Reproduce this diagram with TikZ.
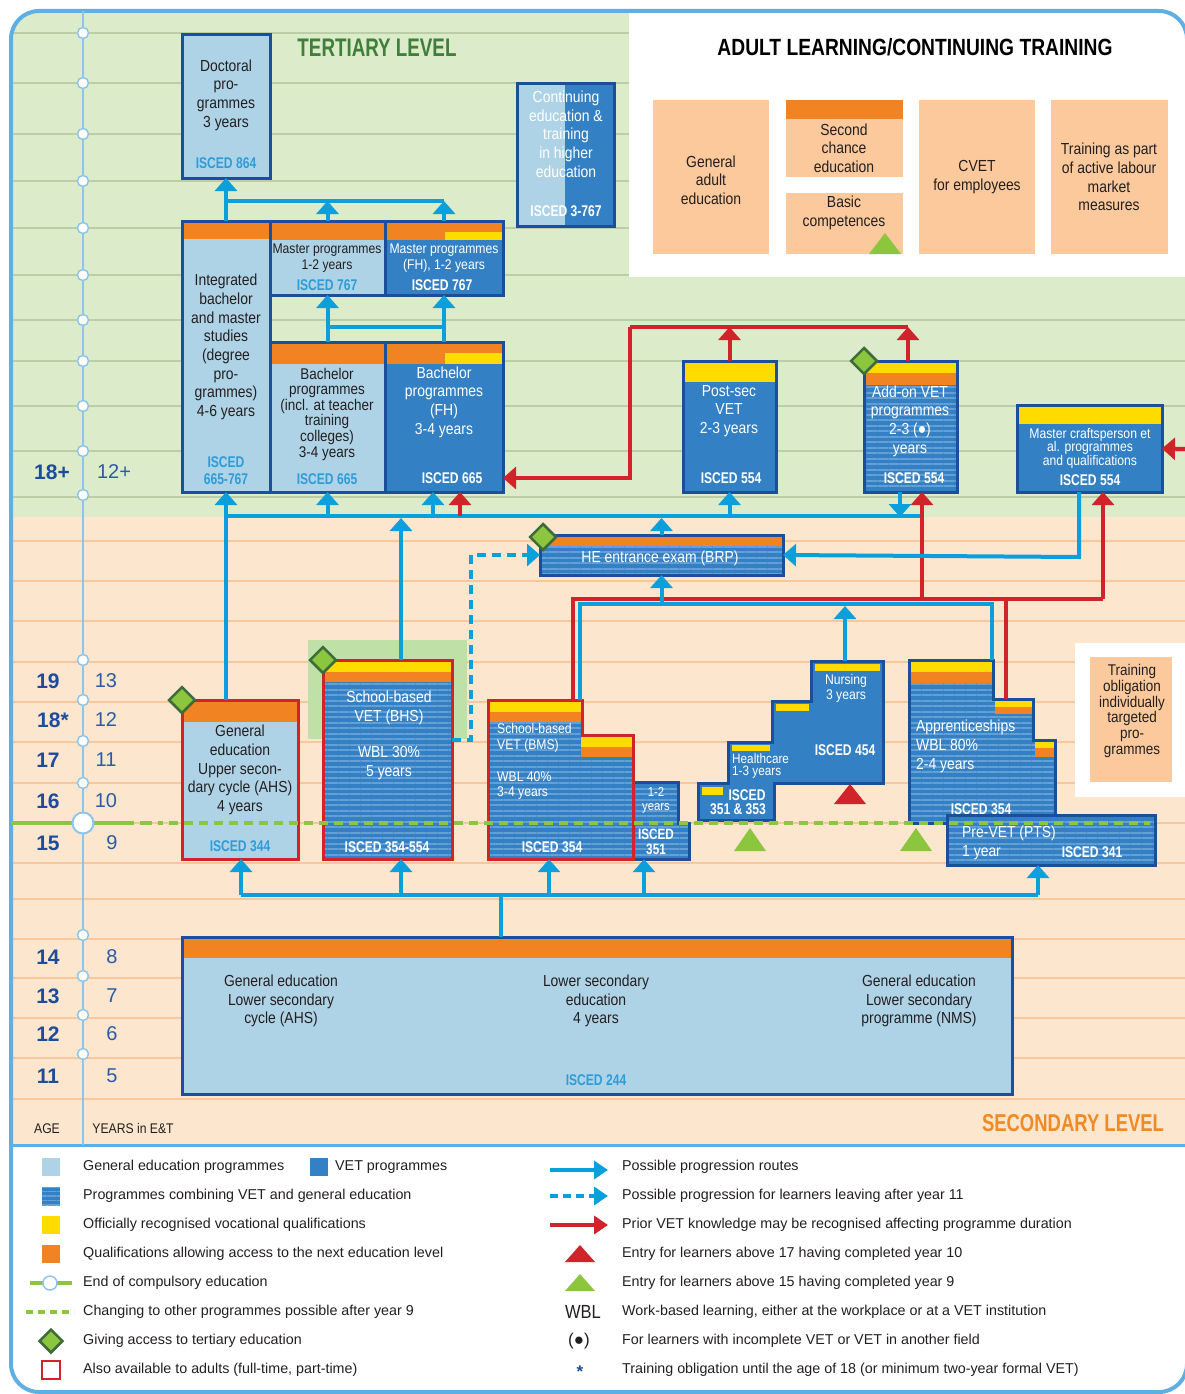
\documentclass[tikz,border=0pt]{standalone}
\usepackage{fontspec}
\usepackage{graphicx}
\setmainfont{Liberation Sans}
\newfontfamily\cond{Liberation Sans}[FakeStretch=0.87]
\newfontfamily\condb{Liberation Sans}[FakeStretch=0.78]
\usetikzlibrary{arrows.meta,patterns.meta,shapes.geometric,fit,calc}
\definecolor{frameblue}{HTML}{5EB0E4}
\definecolor{axisblue}{HTML}{8EC5EC}
\definecolor{tertgreen}{HTML}{DCEBC9}
\definecolor{tertline}{HTML}{BCCEA8}
\definecolor{secpeach}{HTML}{FDE6CE}
\definecolor{secline}{HTML}{F8C79B}
\definecolor{genblue}{HTML}{AFD3E6}
\definecolor{vetblue}{HTML}{3380C4}
\definecolor{stripe}{HTML}{649FD6}
\definecolor{darkblue}{HTML}{1B4F9C}
\definecolor{arrblue}{HTML}{0B9FDC}
\definecolor{redc}{HTML}{D1232A}
\definecolor{orangec}{HTML}{F28322}
\definecolor{yellowc}{HTML}{FFDC00}
\definecolor{limec}{HTML}{8CC63F}
\definecolor{diamborder}{HTML}{3E6B3A}
\definecolor{adultpeach}{HTML}{FBC99B}
\definecolor{iscedc}{HTML}{2E9CD8}
\definecolor{agec}{HTML}{1E4B9B}
\definecolor{yearc}{HTML}{2A5AA8}
\definecolor{titlegreen}{HTML}{3F7F3A}
\definecolor{titleorange}{HTML}{F08A24}
\definecolor{highlight}{HTML}{BFE0A6}
\definecolor{txtc}{HTML}{231F20}
\newcommand{\rbox}[6]{%
  \path (#2,#3) coordinate (#1nw) (#4,#5) coordinate (#1se);
  \node[fit=(#1nw)(#1se), inner sep=0pt, outer sep=0pt, #6] (#1) {};}
\begin{document}
\begin{tikzpicture}[x=1pt,y=-1pt,
  gbox/.style={draw=darkblue, line width=3pt, fill=genblue},
  vbox/.style={draw=darkblue, line width=3pt, fill=vetblue},
  sbox/.style={draw=darkblue, line width=3pt, preaction={fill=vetblue}, pattern={Lines[angle=0,distance=5.5pt,line width=2pt]}, pattern color=stripe},
  gboxr/.style={gbox, draw=redc},
  sboxr/.style={sbox, draw=redc},
  pbox/.style={fill=adultpeach},
  bt/.style={font=\cond\fontsize{16}{18.7}\selectfont, align=center, inner sep=0pt, text=txtc},
  btw/.style={bt, text=white},
  st/.style={font=\cond\fontsize{14}{16}\selectfont, align=center, inner sep=0pt, text=txtc},
  stw/.style={st, text=white},
  isc/.style={font=\condb\bfseries\fontsize{15.5}{17}\selectfont, align=center, inner sep=0pt, text=iscedc},
  iscw/.style={isc, text=white},
  leg/.style={font=\fontsize{14.3}{16}\selectfont, anchor=west, inner sep=0pt, text=txtc},
  agel/.style={font=\bfseries\fontsize{21}{21}\selectfont, text=agec, inner sep=0pt},
  yearl/.style={font=\fontsize{20}{20}\selectfont, text=yearc, inner sep=0pt},
  barr/.style={draw=arrblue, line width=4pt, -{Triangle[width=22pt,length=13pt]}},
  bln/.style={draw=arrblue, line width=4pt},
  rarr/.style={draw=redc, line width=4pt, -{Triangle[width=22pt,length=13pt]}},
  rln/.style={draw=redc, line width=4pt},
  dia/.style={diamond, draw=diamborder, fill=limec, line width=2.5pt, minimum size=27pt, inner sep=0pt},
  axc/.style={circle, draw=axisblue, fill=white, line width=1.5pt, minimum size=11pt, inner sep=0pt}
]
\useasboundingbox (0,0) rectangle (1184,1394);
\fill[white] (0,0) rectangle (1184,1394);
% ---------- background
\begin{scope}
\clip[rounded corners=28pt] (11,11) rectangle (1187,1392);
\fill[tertgreen] (11,11) rectangle (1187,517);
\fill[secpeach] (11,517) rectangle (1187,1145);
\foreach \yy in {33,83,134,181,228,275,320,361,406,451,497}
  \draw[tertline, line width=2pt] (11,\yy) -- (1187,\yy);
\foreach \yy in {541,581,621,662,702,742,783,823,863,899,939,978,1018,1058,1099}
  \draw[secline, line width=2pt] (11,\yy) -- (1187,\yy);
\fill[white] (629,11) rectangle (1187,277);
\end{scope}
\draw[frameblue, line width=4pt, rounded corners=28pt] (11,11) rectangle (1187,1392);
\draw[frameblue, line width=3pt] (11,1145) -- (1187,1145);
% ---------- axis
\draw[axisblue, line width=2pt] (83,11) -- (83,1145);
\foreach \yy in {33,83,134,181,228,275,320,361,406,451,495,660,700,741,783,935,976,1015,1054}
  \node[axc] (c\yy) at (83,\yy) {};
\node[agel] (a18p) at (52,472) {18+};
\node[agel] (a19) at (48,681) {19};
\node[agel] (a18) at (53,720) {18*};
\node[agel] (a17) at (48,760) {17};
\node[agel] (a16) at (48,801) {16};
\node[agel] (a15) at (48,843) {15};
\node[agel] (a14) at (48,957) {14};
\node[agel] (a13) at (48,996) {13};
\node[agel] (a12) at (48,1034) {12};
\node[agel] (a11) at (48,1076) {11};
\node[yearl] (y12p) at (114,472) {12+};
\node[yearl] (y13) at (106,681) {13};
\node[yearl] (y12) at (106,720) {12};
\node[yearl] (y11) at (106,760) {11};
\node[yearl] (y10) at (106,801) {10};
\node[yearl] (y9) at (112,843) {9};
\node[yearl] (y8) at (112,957) {8};
\node[yearl] (y7) at (112,996) {7};
\node[yearl] (y6) at (112,1034) {6};
\node[yearl] (y5) at (112,1076) {5};
\node[font=\cond\fontsize{14}{14}\selectfont, text=txtc] (agelab) at (47,1129) {AGE};
\node[font=\cond\fontsize{14}{14}\selectfont, text=txtc] (yearlab) at (133,1128) {YEARS in E\&T};
% ---------- titles
\node[text=titlegreen, inner sep=0pt] (ttert) at (377,48) {\resizebox{159pt}{17.5pt}{\bfseries TERTIARY LEVEL}};
\node[text=black, inner sep=0pt] (tadult) at (915,47) {\resizebox{395pt}{17pt}{\bfseries ADULT LEARNING/CONTINUING TRAINING}};
\node[text=titleorange, inner sep=0pt] (tsec) at (1073,1123) {\resizebox{182pt}{17pt}{\bfseries SECONDARY LEVEL}};
% ---------- tertiary boxes
\rbox{doc}{182}{35}{270}{178}{gbox}
\node[bt] (docT) at (226,95) {Doctoral\\pro-\\grammes\\3 years};
\node[isc] (docI) at (226,163) {ISCED 864};
\rbox{intg}{182}{221}{270}{492}{gbox}
\fill[orangec] (183.5,222.5) rectangle (268.5,239);
\node[bt] (intgT) at (226,347) {Integrated\\bachelor\\and master\\studies\\(degree\\pro-\\grammes)\\4-6 years};
\node[isc] (intgI) at (226,471) {ISCED\\665-767};
\rbox{mas}{270}{221}{385}{295}{gbox}
\fill[orangec] (271.5,222.5) rectangle (383.5,240);
\node[st] (masT) at (327,258) {Master programmes\\1-2 years};
\node[isc] (masI) at (327,285) {ISCED 767};
\rbox{masfh}{385}{221}{503}{295}{vbox}
\fill[orangec] (386.5,222.5) rectangle (501.5,240);
\fill[yellowc] (445,232) rectangle (501.5,240);
\node[stw] (masfhT) at (444,258) {Master programmes\\(FH), 1-2 years};
\node[iscw] (masfhI) at (442,285) {ISCED 767};
\rbox{bac}{270}{342}{385}{492}{gbox}
\fill[orangec] (271.5,343.5) rectangle (383.5,364);
\node[bt, font=\cond\fontsize{15.5}{15.6}\selectfont] (bacT) at (327,414) {Bachelor\\programmes\\(incl. at teacher\\training\\colleges)\\3-4 years};
\node[isc] (bacI) at (327,479) {ISCED 665};
\rbox{bacfh}{385}{342}{503}{492}{vbox}
\fill[orangec] (386.5,343.5) rectangle (501.5,364);
\fill[yellowc] (445,353) rectangle (501.5,364);
\node[btw] (bacfhT) at (444,402) {Bachelor\\programmes\\(FH)\\3-4 years};
\node[iscw] (bacfhI) at (452,478) {ISCED 665};
% continuing education
\fill[genblue] (517,84) rectangle (565,226);
\fill[vetblue] (565,84) rectangle (614,226);
\rbox{cont}{517}{84}{614}{226}{draw=darkblue, line width=3pt}
\node[btw] (contT) at (566,134) {Continuing\\education \&\\training\\in higher\\education};
\node[iscw] (contI) at (566,211) {ISCED 3-767};
% adult learning
\rbox{ga}{653}{100}{769}{254}{pbox}
\node[bt] (gaT) at (711,180) {General\\adult\\education};
\rbox{sc}{786}{100}{903}{177}{pbox}
\fill[orangec] (786,100) rectangle (903,119);
\node[bt] (scT) at (844,148) {Second\\chance\\education};
\rbox{bc}{786}{193}{903}{254}{pbox}
\node[bt] (bcT) at (844,213) {Basic\\competences};
\fill[limec] (885,233) -- (901,254) -- (869,254) -- cycle;
\rbox{cv}{919}{100}{1035}{254}{pbox}
\node[bt] (cvT) at (977,177) {CVET\\for employees};
\rbox{tp}{1051}{100}{1168}{254}{pbox}
\node[bt] (tpT) at (1109,177) {Training as part\\of active labour\\market\\measures};
% post-sec, add-on, master craftsperson
\rbox{postsec}{683}{361}{776}{492}{vbox}
\fill[yellowc] (684.5,362.5) rectangle (774.5,382);
\node[btw] (postsecT) at (729,411) {Post-sec\\VET\\2-3 years};
\node[iscw] (postsecI) at (731,478) {ISCED 554};
\rbox{addon}{864}{361}{957}{492}{sbox}
\fill[yellowc] (865.5,362.5) rectangle (955.5,373);
\fill[orangec] (865.5,373) rectangle (955.5,385);
\node[btw] (addonT) at (910,421) {Add-on VET\\programmes\\2-3 (●)\\years};
\node[iscw] (addonI) at (914,478) {ISCED 554};
\rbox{mc}{1017}{405}{1162}{492}{vbox}
\fill[yellowc] (1018.5,406.5) rectangle (1160.5,424);
\node[stw, font=\cond\fontsize{14}{13.5}\selectfont] (mcT) at (1090,448) {Master craftsperson et\\al. programmes\\and qualifications};
\node[iscw] (mcI) at (1090,480) {ISCED 554};
% ---------- secondary boxes
\fill[highlight] (308,640) rectangle (467,739);
\rbox{ahs}{182}{700}{298}{859}{gboxr}
\fill[orangec] (183.5,701.5) rectangle (296.5,722);
\node[bt] (ahsT) at (240,770) {General\\education\\Upper secon-\\dary cycle (AHS)\\4 years};
\node[isc] (ahsI) at (240,846) {ISCED 344};
\rbox{bhs}{323}{660}{452}{859}{sboxr}
\fill[yellowc] (324.5,661.5) rectangle (450.5,672);
\fill[orangec] (324.5,672) rectangle (450.5,682);
\node[btw] (bhsT1) at (389,708) {School-based\\VET (BHS)};
\node[btw] (bhsT2) at (389,763) {WBL 30\%\\5 years};
\node[iscw] (bhsI) at (387,847) {ISCED 354-554};
% ISCED 351 box
\draw[sbox] (633,782) -- (678,782) -- (678,823) -- (689,823) -- (689,859) -- (633,859) -- cycle;
\path (633,782) coordinate (b351nw) (689,859) coordinate (b351se);
\node[fit=(b351nw)(b351se), inner sep=0pt] (b351) {};
\node[stw, font=\cond\fontsize{13}{14}\selectfont] (b351T) at (656,800) {1-2\\years};
\node[iscw, font=\condb\bfseries\fontsize{15}{15}\selectfont] (b351I) at (656,842) {ISCED\\351};
% BMS
\draw[sboxr] (488,700) -- (582,700) -- (582,735) -- (633,735) -- (633,859) -- (488,859) -- cycle;
\path (488,700) coordinate (bmsnw) (633,859) coordinate (bmsse);
\node[fit=(bmsnw)(bmsse), inner sep=0pt] (bms) {};
\fill[yellowc] (489.5,701.5) rectangle (580.5,712);
\fill[orangec] (489.5,712) rectangle (580.5,722);
\fill[yellowc] (580.5,736.5) rectangle (631.5,747);
\fill[orangec] (580.5,747) rectangle (631.5,757);
\node[stw, anchor=west, align=left] (bmsT1) at (497,738) {School-based\\VET (BMS)};
\node[stw, anchor=west, align=left, font=\cond\fontsize{14}{15}\selectfont] (bmsT2) at (497,786) {WBL 40\%\\3-4 years};
\node[iscw] (bmsI) at (552,847) {ISCED 354};
% HE entrance exam
\rbox{he}{540}{535}{783}{575}{sbox}
\fill[orangec] (541.5,536.5) rectangle (781.5,546);
\node[btw] (heT) at (660,558) {HE entrance exam (BRP)};
% Healthcare / Nursing staircase
\draw[vbox] (698,820) -- (698,783) -- (728,783) -- (728,742) -- (772,742) -- (772,701) -- (811,701) -- (811,661) -- (883,661) -- (883,783) -- (774,783) -- (774,820) -- cycle;
\path (698,661) coordinate (hnnw) (883,820) coordinate (hnse);
\node[fit=(hnnw)(hnse), inner sep=0pt] (hn) {};
\fill[yellowc] (815,664) rectangle (880,671);
\fill[yellowc] (776,704) rectangle (809,711);
\fill[yellowc] (732,745) rectangle (770,751);
\fill[yellowc] (702,787) rectangle (723,795);
\node[stw, font=\cond\fontsize{14}{15}\selectfont] (nurT) at (846,688) {Nursing\\3 years};
\node[iscw] (nurI) at (845,750) {ISCED 454};
\node[stw, anchor=west, align=left, font=\cond\fontsize{13.5}{12.5}\selectfont] (hcT) at (732,766) {Healthcare\\1-3 years};
\node[iscw] (hcI1) at (747,795) {ISCED};
\node[iscw] (hcI2) at (738,809) {351 \& 353};
% Apprenticeships
\draw[sbox] (909,660) -- (993,660) -- (993,699) -- (1033,699) -- (1033,740) -- (1055,740) -- (1055,823) -- (909,823) -- cycle;
\path (909,660) coordinate (appnw) (1055,823) coordinate (appse);
\node[fit=(appnw)(appse), inner sep=0pt] (app) {};
\fill[yellowc] (910.5,661.5) rectangle (991.5,672);
\fill[orangec] (910.5,672) rectangle (991.5,683);
\fill[yellowc] (994.5,700.5) rectangle (1031.5,707);
\fill[orangec] (994.5,707) rectangle (1031.5,714);
\fill[yellowc] (1034.5,741.5) rectangle (1053.5,748);
\fill[orangec] (1034.5,748) rectangle (1053.5,757);
\node[btw, anchor=west, align=left] (appT) at (916,746.5) {Apprenticeships\\WBL 80\%\\2-4 years};
\node[iscw] (appI) at (981,809) {ISCED 354};
% Pre-VET
\rbox{prevet}{947}{815}{1155}{865}{sbox}
\node[btw, anchor=west, align=left] (prevetT) at (962,843) {Pre-VET (PTS)\\1 year};
\node[iscw] (prevetI) at (1092,852) {ISCED 341};
% training obligation
\fill[white] (1075,643) rectangle (1186,797);
\rbox{tob}{1090}{657}{1172}{782}{pbox}
\node[bt, font=\cond\fontsize{15.5}{15.8}\selectfont] (tobT) at (1132,711) {Training\\obligation\\individually\\targeted\\pro-\\grammes};
% lower secondary
\rbox{lsec}{182}{937}{1012}{1094}{gbox}
\fill[orangec] (183.5,938.5) rectangle (1010.5,958);
\node[bt] (lsecT1) at (281,1001) {General education\\Lower secondary\\cycle (AHS)};
\node[bt] (lsecT2) at (596,1001) {Lower secondary\\education\\4 years};
\node[bt] (lsecT3) at (919,1001) {General education\\Lower secondary\\programme (NMS)};
\node[isc] (lsecI) at (596,1080) {ISCED 244};
% ---------- connectors: tertiary
\draw[barr] (intg.north) -- (doc.south);
\coordinate (tj1) at (226,201);
\coordinate (tj2) at (444,201);
\draw[bln] (tj1) -- (tj2);
\draw[barr] (mas.north) -- (mas.north |- tj1);
\draw[barr] (masfh.north) -- (masfh.north |- tj1);
\coordinate (tj3) at (327,327);
\coordinate (tj4) at (444,327);
\draw[bln] (tj3) -- (tj4);
\draw[barr] (bac.north) -- (mas.south);
\draw[barr] (bacfh.north) -- (masfh.south);
% red tertiary route
\coordinate (rj1) at (630,327);
\coordinate (rj2) at (908,327);
\coordinate (rj3) at (630,478);
\draw[rln] (rj1) -- (rj2);
\draw[rarr] (postsec.north) -- (postsec.north |- rj1);
\draw[rarr] (addon.north -| rj2) -- (rj2);
\draw[rarr] (rj1) -- (rj3) -- (bacfh.east |- rj3);
\coordinate (mcin) at (1190,449);
\draw[rarr] (mcin) -- (mc.east);
% blue level line
\coordinate (bl) at (226,516);
\coordinate (br) at (922,516);
\draw[bln] (bl) -- (br);
\draw[barr] (ahs.north -| intg.south) -- (intg.south);
\draw[barr] (bac.south |- bl) -- (bac.south);
\coordinate (bfx) at (433,516);
\draw[barr] (bfx) -- (bacfh.south -| bfx);
\coordinate (rfx) at (460,516);
\draw[rarr] (rfx) -- (bacfh.south -| rfx);
\coordinate (bhsx) at (401,518);
\draw[barr] (bhs.north -| bhsx) -- (bhsx);
\draw[barr] (he.north) -- (he.north |- bhsx);
\draw[barr] (postsec.south |- bl) -- (postsec.south);
\coordinate (adx) at (900,517);
\draw[barr] (addon.south -| adx) -- (adx);
% dashed route
\coordinate (dj1) at (471,740);
\coordinate (dj2) at (471,555);
\draw[barr, dash pattern=on 9pt off 6pt] (bhs.east |- dj1) -- (dj1) -- (dj2) -- (he.west);
% red secondary routes
\coordinate (rs1) at (573,700);
\coordinate (rs2) at (573,599);
\coordinate (rs3) at (1103,599);
\draw[rln] (rs1) -- (rs2) -- (rs3);
\coordinate (rs4) at (922,599);
\draw[rarr] (rs4) -- (addon.south -| rs4);
\draw[rarr] (rs3) -- (mc.south -| rs3);
\coordinate (rs5) at (1006,599);
\coordinate (rs6) at (1006,699);
\draw[rln] (rs5) -- (rs6);
% blue secondary routes
\coordinate (bs1) at (580,700);
\coordinate (bs2) at (580,604);
\coordinate (bs3) at (992,604);
\coordinate (bs4) at (992,660);
\draw[bln] (bs1) -- (bs2) -- (bs3) -- (bs4);
\draw[barr] (he.south |- bs2) -- (he.south);
\coordinate (nx) at (845,661);
\coordinate (ny) at (845,606);
\draw[barr] (nx) -- (ny);
\coordinate (mj1) at (1079,557);
\draw[barr] (mc.south -| mj1) -- (mj1) -- (he.east);
% bottom distribution
\coordinate (bj) at (501,895);
\coordinate (bjl) at (241,895);
\coordinate (bjr) at (1038,895);
\draw[bln] (lsec.north -| bj) -- (bj);
\draw[bln] (bjl) -- (bjr);
\draw[barr] (bjl) -- (ahs.south -| bjl);
\coordinate (bx2) at (401,895);
\coordinate (bx3) at (549,895);
\coordinate (bx4) at (644,895);
\draw[barr] (bx2) -- (bhs.south -| bx2);
\draw[barr] (bx3) -- (bms.south -| bx3);
\draw[barr] (bx4) -- (b351.south -| bx4);
\draw[barr] (bjr) -- (prevet.south -| bjr);
% triangles
\fill[limec] (750,828) -- (766,851) -- (734,851) -- cycle;
\fill[limec] (916,828) -- (932,851) -- (900,851) -- cycle;
\fill[redc] (850,784) -- (866,804) -- (834,804) -- cycle;
% diamonds
\node[dia] (d1) at (ahs.north west) {};
\node[dia] (d2) at (bhs.north west) {};
\node[dia] (d3) at ($(he.north west)+(3,2)$) {};
\node[dia] (d4) at (addon.north west) {};
% end of compulsory education
\draw[limec, line width=4pt] (11,823) -- (134,823);
\draw[limec, line width=4pt] (140,823) -- (152,823);
\draw[limec, line width=4pt] (158,823) -- (163,823);
\draw[limec, line width=4pt, dash pattern=on 9pt off 6pt] (169,823) -- (1150,823);
\node[circle, draw=axisblue, fill=white, line width=2pt, minimum size=21pt, inner sep=0pt] (cbig) at (83,823) {};
% ---------- legend
\fill[genblue] (42,1158) rectangle (60,1176);
\node[leg] (l1) at (83,1167) {General education programmes};
\fill[vetblue] (310,1158) rectangle (328,1176);
\node[leg] (l1b) at (335,1167) {VET programmes};
\path[preaction={fill=vetblue}, pattern={Lines[angle=0,distance=4.5pt,line width=1.8pt]}, pattern color=stripe] (42,1187) rectangle (60,1205);
\node[leg] (l2) at (83,1196) {Programmes combining VET and general education};
\fill[yellowc] (42,1216) rectangle (60,1234);
\node[leg] (l3) at (83,1225) {Officially recognised vocational qualifications};
\fill[orangec] (42,1245) rectangle (60,1263);
\node[leg] (l4) at (83,1254) {Qualifications allowing access to the next education level};
\draw[limec, line width=4pt] (30,1283) -- (72,1283);
\node[circle, draw=axisblue, fill=white, line width=1.5pt, minimum size=14pt, inner sep=0pt] (lc) at (50,1283) {};
\node[leg] (l5) at (83,1283) {End of compulsory education};
\draw[limec, line width=4pt, dash pattern=on 7pt off 5pt] (26,1312) -- (74,1312);
\node[leg] (l6) at (83,1312) {Changing to other programmes possible after year 9};
\node[dia, minimum size=24pt] (ld) at (51,1341) {};
\node[leg] (l7) at (83,1341) {Giving access to tertiary education};
\draw[redc, line width=1.5pt, fill=white] (42,1361) rectangle (60,1379);
\node[leg] (l8) at (83,1370) {Also available to adults (full-time, part-time)};
\coordinate (la1) at (550,1170); \coordinate (la2) at (608,1170);
\draw[barr, -{Triangle[width=18pt,length=14pt]}] (la1) -- (la2);
\node[leg] (r1) at (622,1167) {Possible progression routes};
\coordinate (lb1) at (550,1196); \coordinate (lb2) at (608,1196);
\draw[barr, -{Triangle[width=18pt,length=14pt]}, dash pattern=on 8pt off 5pt] (lb1) -- (lb2);
\node[leg] (r2) at (622,1196) {Possible progression for learners leaving after year 11};
\coordinate (lc1) at (550,1225); \coordinate (lc2) at (608,1225);
\draw[rarr, -{Triangle[width=18pt,length=14pt]}] (lc1) -- (lc2);
\node[leg] (r3) at (622,1225) {Prior VET knowledge may be recognised affecting programme duration};
\fill[redc] (580,1245) -- (595,1262) -- (565,1262) -- cycle;
\node[leg] (r4) at (622,1254) {Entry for learners above 17 having completed year 10};
\fill[limec] (580,1274) -- (595,1291) -- (565,1291) -- cycle;
\node[leg] (r5) at (622,1283) {Entry for learners above 15 having completed year 9};
\node[font=\cond\fontsize{19}{19}\selectfont, text=txtc, inner sep=0pt] (wbl) at (583,1312) {WBL};
\node[leg] (r6) at (622,1312) {Work-based learning, either at the workplace or at a VET institution};
\node[font=\fontsize{17}{17}\selectfont, text=txtc, inner sep=0pt] (dot) at (579,1341) {(●)};
\node[leg] (r7) at (622,1341) {For learners with incomplete VET or VET in another field};
\node[font=\bfseries\fontsize{17}{17}\selectfont, text=agec, inner sep=0pt] (star) at (580,1372) {*};
\node[leg] (r8) at (622,1370) {Training obligation until the age of 18 (or minimum two-year formal VET)};
\end{tikzpicture}
\end{document}
